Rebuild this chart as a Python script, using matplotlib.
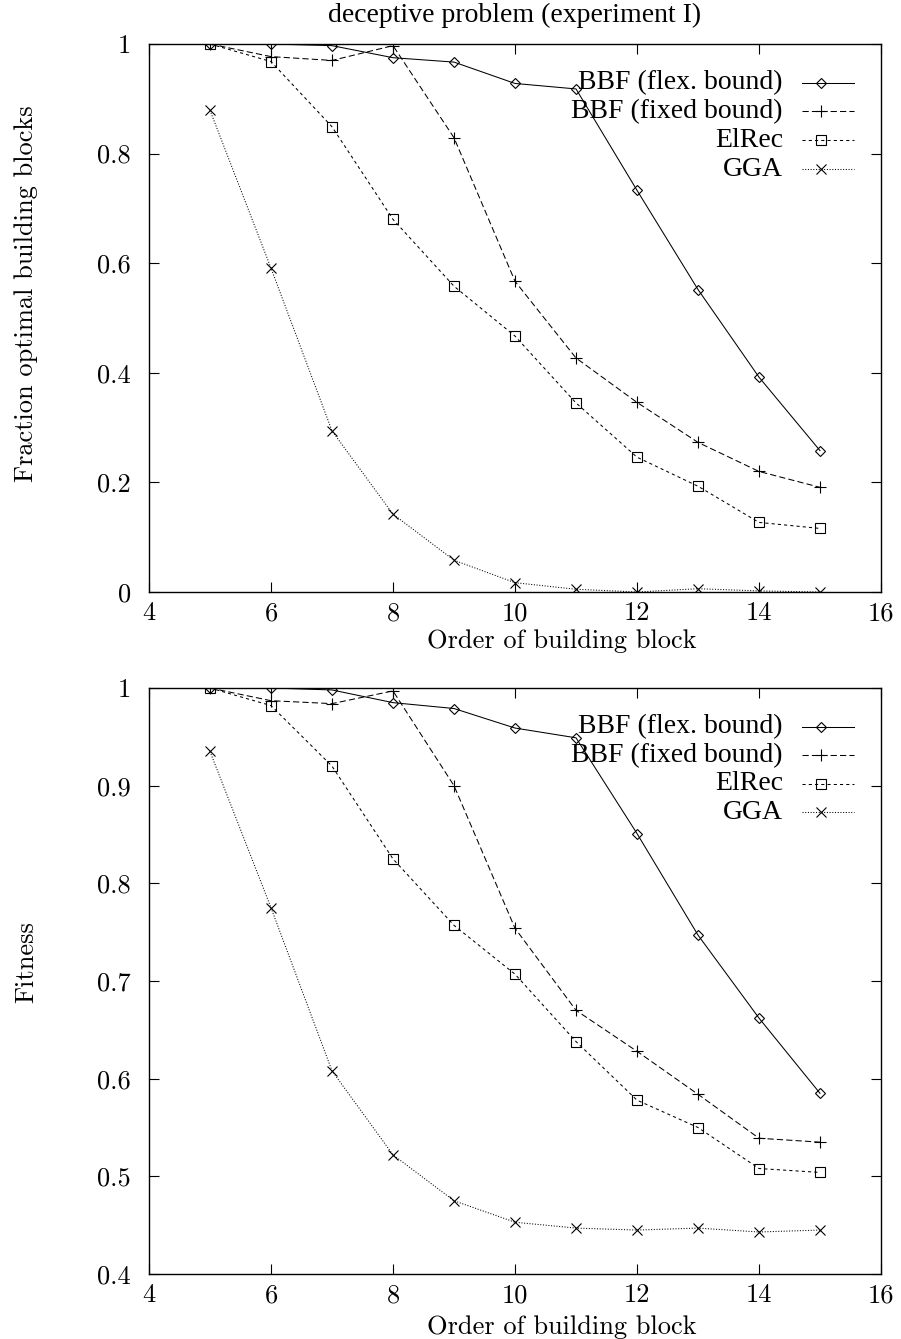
import matplotlib
matplotlib.use("Agg")
import matplotlib.pyplot as plt
from matplotlib.lines import Line2D

# ---------------- data ----------------
order = [5, 6, 7, 8, 9, 10, 11, 12, 13, 14, 15]

labels = ["BBF (flex. bound)", "BBF (fixed bound)", "ElRec", "GGA"]

frac_flex = [1.0, 1.0, 0.997, 0.975, 0.967, 0.928, 0.918, 0.733, 0.552, 0.392, 0.258]
frac_fixed = [1.0, 0.977, 0.970, 0.997, 0.829, 0.567, 0.427, 0.346, 0.273, 0.220, 0.191]
frac_elrec = [1.0, 0.968, 0.849, 0.680, 0.558, 0.467, 0.345, 0.246, 0.193, 0.127, 0.116]
frac_gga = [0.879, 0.591, 0.294, 0.142, 0.058, 0.017, 0.005, 0.0, 0.006, 0.002, 0.0]

fit_flex = [1.0, 1.0, 0.998, 0.985, 0.979, 0.959, 0.949, 0.851, 0.747, 0.662, 0.585]
fit_fixed = [1.0, 0.987, 0.984, 0.997, 0.900, 0.754, 0.670, 0.628, 0.584, 0.539, 0.535]
fit_elrec = [1.0, 0.982, 0.920, 0.825, 0.757, 0.707, 0.638, 0.578, 0.550, 0.508, 0.504]
fit_gga = [0.935, 0.775, 0.608, 0.522, 0.475, 0.453, 0.447, 0.445, 0.447, 0.443, 0.445]

xticks = [4, 6, 8, 10, 12, 14, 16]
yticks_top = [0, 0.2, 0.4, 0.6, 0.8, 1.0]
yticklabels_top = ["0", "0.2", "0.4", "0.6", "0.8", "1"]
yticks_bot = [0.4, 0.5, 0.6, 0.7, 0.8, 0.9, 1.0]
yticklabels_bot = ["0.4", "0.5", "0.6", "0.7", "0.8", "0.9", "1"]

title = "deceptive problem (experiment I)"
xlabel = "Order of building block"
ylabel_top = "Fraction optimal building blocks"
ylabel_bot = "Fitness"

# ---------------- styles ----------------
styles = [
    dict(marker="D", ms=5.0, dashes=None),
    dict(marker="+", ms=8.5, dashes=(6, 3)),
    dict(marker="s", ms=6.5, dashes=(3, 3)),
    dict(marker="x", ms=7.0, dashes=(1, 1.6)),
]
LW = 0.75
CM = "cmr10"
TIMES = "Liberation Serif"

fig = plt.figure(figsize=(9.01, 13.39), dpi=100)
ax_top = fig.add_axes([149 / 901, 1 - 592 / 1339, 732 / 901, 548 / 1339])
ax_bot = fig.add_axes([149 / 901, 1 - 1274 / 1339, 732 / 901, 586 / 1339])


def draw(ax, series, yticks, yticklabels, ylim, ylabel, ylab_y, leg_y, xlab_y):
    for vals, st in zip(series, styles):
        line, = ax.plot(order, vals, color="black", lw=LW, marker=st["marker"],
                        ms=st["ms"], mfc="none", mec="black", mew=0.8)
        if st["dashes"] is not None:
            line.set_dashes(st["dashes"])
    ax.set_xlim(4, 16)
    ax.set_ylim(*ylim)
    ax.set_xticks(xticks)
    ax.set_xticklabels([str(t) for t in xticks], fontfamily=CM, fontsize=19)
    ax.set_yticks(yticks)
    ax.set_yticklabels(yticklabels, fontfamily=CM, fontsize=19)
    ax.tick_params(axis="both", direction="in", length=7, width=0.8,
                   top=True, right=True)
    ax.tick_params(axis="y", pad=13)
    ax.tick_params(axis="x", pad=7)
    for sp in ax.spines.values():
        sp.set_linewidth(1.0)
    ax.set_xlabel(xlabel, fontfamily=CM, fontsize=19)
    ax.xaxis.set_label_coords(0.564, xlab_y)
    ax.set_ylabel(ylabel, fontfamily=CM, fontsize=19)
    ax.yaxis.set_label_coords(-0.152, ylab_y)

    # legend (gnuplot style: right-aligned text, sample to the right)
    for st, lab, yy in zip(styles, labels, leg_y):
        ax.text(0.866, yy, lab, transform=ax.transAxes, ha="right",
                va="center", fontfamily=TIMES, fontsize=20)
        ln = Line2D([0.892, 0.918, 0.963], [yy, yy, yy], transform=ax.transAxes,
                    color="black", lw=LW, marker=st["marker"], ms=st["ms"],
                    mfc="none", mec="black", mew=0.8, markevery=[1])
        if st["dashes"] is not None:
            ln.set_dashes(st["dashes"])
        ax.add_line(ln)


draw(ax_top, [frac_flex, frac_fixed, frac_elrec, frac_gga], yticks_top,
     yticklabels_top, (0, 1), ylabel_top, 0.545,
     [0.929, 0.877, 0.824, 0.771], -0.068)
draw(ax_bot, [fit_flex, fit_fixed, fit_elrec, fit_gga], yticks_bot,
     yticklabels_bot, (0.4, 1.0), ylabel_bot, 0.532,
     [0.934, 0.885, 0.837, 0.788], -0.071)

fig.text(0.5 * (149 + 881) / 901, 1 - 15 / 1339, title, ha="center",
         va="center", fontfamily=TIMES, fontsize=20)

fig.savefig("out.png", dpi=100)
